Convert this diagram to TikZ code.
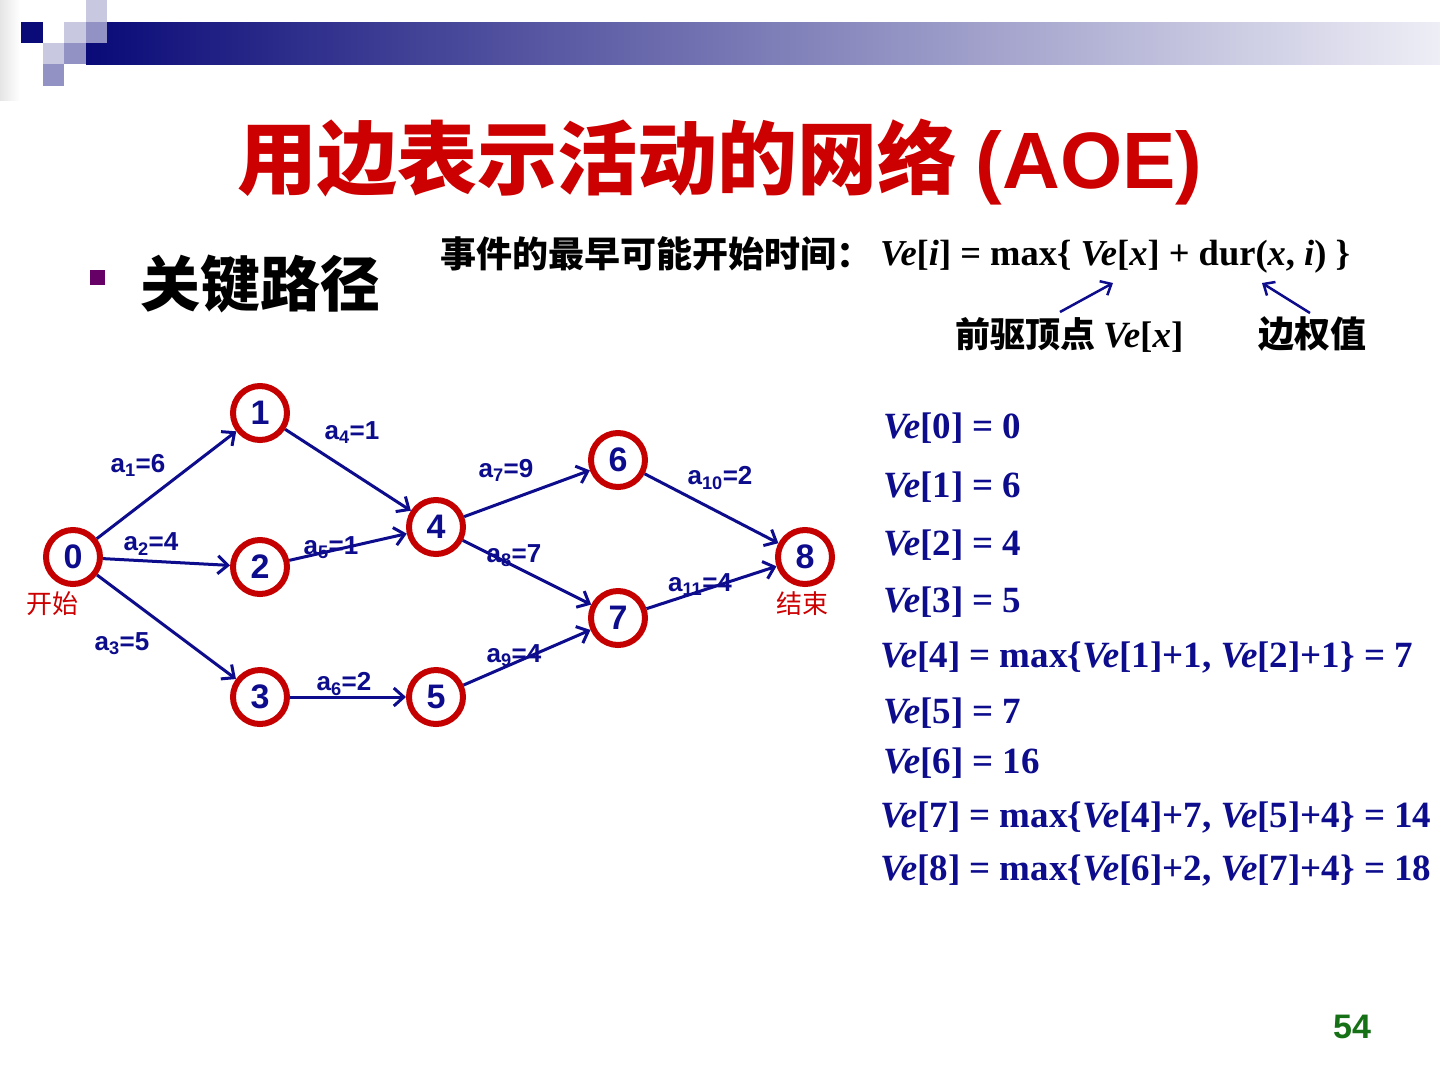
\documentclass[tikz,border=0pt]{standalone}
\usepackage{fontspec}
\setmainfont{Liberation Serif}
\setsansfont{Liberation Sans}
\newfontfamily\cjk{Noto Sans CJK SC}
\usetikzlibrary{arrows.meta}
\definecolor{navy}{RGB}{12,12,140}
\definecolor{circred}{RGB}{196,0,0}
\definecolor{titred}{RGB}{204,0,0}
\definecolor{hdark}{RGB}{10,10,120}
\definecolor{hlightend}{RGB}{238,238,246}
\definecolor{hlight}{RGB}{200,200,224}
\definecolor{hmed}{RGB}{146,146,196}
\definecolor{bulletc}{RGB}{102,0,102}
\definecolor{pgreen}{RGB}{22,112,22}
\tikzset{
  vtx/.style={circle, draw=circred, line width=6pt, fill=white, minimum size=54pt,
    inner sep=0pt, text=navy, font=\sffamily\bfseries\fontsize{34}{34}\selectfont},
  arc/.style={draw=navy, line width=3pt, -{Straight Barb[length=10pt,width=18pt]}},
  thinarc/.style={draw=navy, line width=2.5pt, -{Straight Barb[length=9pt,width=16pt]}},
  lab/.style={text=navy, inner sep=0pt, font=\sffamily\bfseries\fontsize{26}{26}\selectfont},
  redlab/.style={text=titred, inner sep=0pt, font=\cjk\fontsize{26}{26}\selectfont},
  vlist/.style={anchor=base west, text=navy, inner sep=0pt, font=\bfseries\fontsize{37}{37}\selectfont},
}
\begin{document}
\begin{tikzpicture}[x=1pt,y=-1pt]
\useasboundingbox (0,0) rectangle (1440,1080);
\fill[white] (0,0) rectangle (1440,1080);
% header decoration
\shade[left color=black!10, right color=white] (0,0) rectangle (20,100);
\shade[left color=hdark, right color=hlightend] (86,22) rectangle (1440,64);
\fill[hlight] (86,0) rectangle (107,22);
\fill[hdark] (21,22) rectangle (43,43);
\fill[hlight] (64,22) rectangle (86,43);
\fill[hmed] (86,22) rectangle (107,43);
\fill[hlight] (43,43) rectangle (64,64);
\fill[hmed] (64,43) rectangle (86,64);
\fill[hmed] (43,64) rectangle (64,86);
% title
\node[text=titred, inner sep=0pt] (title) at (720,162)
  {\cjk\bfseries\fontsize{80}{80}\selectfont 用边表示活动的网络 {\sffamily\bfseries (AOE)}};
% bullet
\node[fill=bulletc, minimum size=15pt, inner sep=0pt] (bul) at (97,277) {};
\node[anchor=west, inner sep=0pt] (kp) at (140,284) {\cjk\bfseries\fontsize{60}{60}\selectfont 关键路径};
% formula
\node[anchor=base west, inner sep=0pt] (f1) at (440,267)
  {\cjk\bfseries\fontsize{36}{36}\selectfont 事件的最早可能开始时间：};
\node[anchor=base west, inner sep=0pt] (f2) at (880,265)
  {\bfseries\fontsize{36.5}{36.5}\selectfont\textit{Ve}[\textit{i}] = max\{ \textit{Ve}[\textit{x}] + dur(\textit{x}, \textit{i}) \}};
\node[anchor=base west, inner sep=0pt] (qq) at (955,347)
  {\cjk\bfseries\fontsize{35}{35}\selectfont 前驱顶点 {\rmfamily\fontsize{37}{37}\selectfont\textit{Ve}[\textit{x}]}};
\node[anchor=base west, inner sep=0pt] (bq) at (1258,347)
  {\cjk\bfseries\fontsize{36}{36}\selectfont 边权值};
\coordinate (qa) at (1060,312);
\coordinate (qb) at (1113,283);
\coordinate (ba) at (1310,313);
\coordinate (bb) at (1262,283);
\draw[thinarc] (qa) -- (qb);
\draw[thinarc] (ba) -- (bb);
% graph
\node[vtx] (n0) at (73,557) {0};
\node[vtx] (n1) at (260,413) {1};
\node[vtx] (n2) at (260,567) {2};
\node[vtx] (n3) at (260,697) {3};
\node[vtx] (n4) at (436,527) {4};
\node[vtx] (n5) at (436,697) {5};
\node[vtx] (n6) at (618,460) {6};
\node[vtx] (n7) at (618,618) {7};
\node[vtx] (n8) at (805,557) {8};
\draw[arc] (n0) -- (n1);
\draw[arc] (n0) -- (n2);
\draw[arc] (n0) -- (n3);
\draw[arc] (n1) -- (n4);
\draw[arc] (n2) -- (n4);
\draw[arc] (n3) -- (n5);
\draw[arc] (n4) -- (n6);
\draw[arc] (n4) -- (n7);
\draw[arc] (n5) -- (n7);
\draw[arc] (n6) -- (n8);
\draw[arc] (n7) -- (n8);
\node[lab] (l1) at (138,465) {a\textsubscript{1}=6};
\node[lab] (l2) at (151,544) {a\textsubscript{2}=4};
\node[lab] (l3) at (122,644) {a\textsubscript{3}=5};
\node[lab] (l4) at (352,433) {a\textsubscript{4}=1};
\node[lab] (l5) at (331,548) {a\textsubscript{5}=1};
\node[lab] (l6) at (344,684) {a\textsubscript{6}=2};
\node[lab] (l7) at (506,470) {a\textsubscript{7}=9};
\node[lab] (l8) at (514,556) {a\textsubscript{8}=7};
\node[lab] (l9) at (514,656) {a\textsubscript{9}=4};
\node[lab] (l10) at (720,478) {a\textsubscript{10}=2};
\node[lab] (l11) at (700,585) {a\textsubscript{11}=4};
\node[redlab] (st) at (53,604) {开始};
\node[redlab] (en) at (802,604) {结束};
% Ve list
\node[vlist] (v0) at (883,438) {\textit{Ve}[0] = 0};
\node[vlist] (v1) at (883,497) {\textit{Ve}[1] = 6};
\node[vlist] (v2) at (883,555) {\textit{Ve}[2] = 4};
\node[vlist] (v3) at (883,612) {\textit{Ve}[3] = 5};
\node[vlist] (v4) at (880,667) {\textit{Ve}[4] = max\{\textit{Ve}[1]+1, \textit{Ve}[2]+1\} = 7};
\node[vlist] (v5) at (883,723) {\textit{Ve}[5] = 7};
\node[vlist] (v6) at (883,773) {\textit{Ve}[6] = 16};
\node[vlist] (v7) at (880,827) {\textit{Ve}[7] = max\{\textit{Ve}[4]+7, \textit{Ve}[5]+4\} = 14};
\node[vlist] (v8) at (880,880) {\textit{Ve}[8] = max\{\textit{Ve}[6]+2, \textit{Ve}[7]+4\} = 18};
% page number
\node[text=pgreen, inner sep=0pt, font=\sffamily\bfseries\fontsize{34}{34}\selectfont] (pg) at (1352,1027) {54};
\end{tikzpicture}
\end{document}
